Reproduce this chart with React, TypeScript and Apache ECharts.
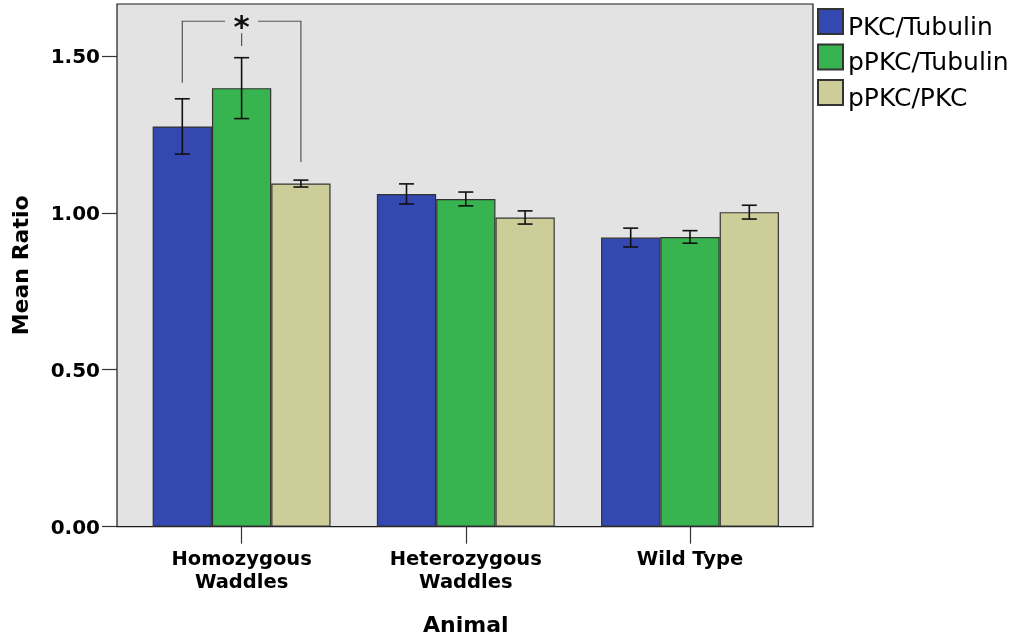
import React, { useEffect, useRef } from 'react';
import * as echarts from 'echarts';

// ---- data ----
const categories = ['Homozygous\nWaddles', 'Heterozygous\nWaddles', 'Wild Type'];
const seriesNames = ['PKC/Tubulin', 'pPKC/Tubulin', 'pPKC/PKC'];
const pkcTubulin = [1.275, 1.06, 0.921];
const pkcTubulinErr = [0.088, 0.032, 0.03];
const ppkcTubulin = [1.397, 1.044, 0.923];
const ppkcTubulinErr = [0.097, 0.022, 0.02];
const ppkcPkc = [1.093, 0.985, 1.002];
const ppkcPkcErr = [0.011, 0.021, 0.022];
const yTicks = [0, 0.5, 1.0, 1.5];
const yMax = 1.665;
// significance bracket
const sigCategory = [0];
const sigFrom = [0];
const sigTo = [2];
const sigMark = [1];
const sigTop = [1.61];
const sigLeftEnd = [1.414];
const sigRightEnd = [1.162];
const sigTickTop = [1.572];
const sigTickBottom = [1.531];
const sigLabel = ['*'];

const colors = ['#3349B1', '#37B34F', '#CDCD9A'];
const GAP = 0.2065;
const FONT = 'DejaVu Sans';

export default function App() {
  const ref = useRef<HTMLDivElement>(null);
  useEffect(() => {
    if (!ref.current) return;
    const chart = echarts.init(ref.current, undefined, { renderer: 'svg' });
    const means = [pkcTubulin, ppkcTubulin, ppkcPkc];
    const errs = [pkcTubulinErr, ppkcTubulinErr, ppkcPkcErr];

    const barOffset = (api: any, idx: number) => {
      const band = api.size([1, 0])[0];
      const bw = (band * (1 - GAP)) / 3;
      return (idx - 1) * bw;
    };

    const barSeries = means.map((m, i) => ({
      name: seriesNames[i],
      type: 'bar',
      xAxisIndex: 1,
      yAxisIndex: 1,
      data: m,
      barGap: '0%',
      barCategoryGap: GAP * 100 + '%',
      itemStyle: { color: colors[i], borderColor: '#333', borderWidth: 1.2 },
      z: 2,
    }));

    const errSeries = means.map((m, i) => ({
      type: 'custom',
      xAxisIndex: 1,
      yAxisIndex: 1,
      z: 4,
      silent: true,
      encode: { x: 0, y: [1, 2] },
      data: m.map((v, c) => [c, v - errs[i][c], v + errs[i][c]]),
      renderItem: (params: any, api: any) => {
        const c = api.value(0);
        const lo = api.coord([c, api.value(1)]);
        const hi = api.coord([c, api.value(2)]);
        const x = lo[0] + barOffset(api, i);
        const hw = 7.5;
        const st = { stroke: '#111', lineWidth: 1.6 };
        return {
          type: 'group',
          children: [
            { type: 'line', shape: { x1: x, y1: lo[1], x2: x, y2: hi[1] }, style: st },
            { type: 'line', shape: { x1: x - hw, y1: lo[1], x2: x + hw, y2: lo[1] }, style: st },
            { type: 'line', shape: { x1: x - hw, y1: hi[1], x2: x + hw, y2: hi[1] }, style: st },
          ],
        };
      },
    }));

    const sigSeries = {
      type: 'custom',
      xAxisIndex: 1,
      yAxisIndex: 1,
      z: 5,
      silent: true,
      encode: { x: 0, y: [1, 2, 3, 4, 5] },
      data: sigCategory.map((c, k) => [c, sigTop[k], sigLeftEnd[k], sigRightEnd[k], sigTickTop[k], sigTickBottom[k]]),
      renderItem: (params: any, api: any) => {
        const k = params.dataIndex;
        const c = api.value(0);
        const top = api.coord([c, api.value(1)]);
        const lEnd = api.coord([c, api.value(2)]);
        const rEnd = api.coord([c, api.value(3)]);
        const tTop = api.coord([c, api.value(4)]);
        const tBot = api.coord([c, api.value(5)]);
        const xl = top[0] + barOffset(api, sigFrom[k]);
        const xr = top[0] + barOffset(api, sigTo[k]);
        const xm = top[0] + barOffset(api, sigMark[k]);
        const gap = 16.5;
        const st = { stroke: '#555', lineWidth: 1.2, fill: null };
        return {
          type: 'group',
          children: [
            { type: 'polyline', shape: { points: [[xl, lEnd[1]], [xl, top[1]], [xm - gap, top[1]]] }, style: st },
            { type: 'polyline', shape: { points: [[xm + gap, top[1]], [xr, top[1]], [xr, rEnd[1]]] }, style: st },
            { type: 'line', shape: { x1: xm, y1: tTop[1], x2: xm, y2: tBot[1] }, style: st },
            {
              type: 'text',
              x: xm,
              y: top[1] + 5,
              style: {
                text: sigLabel[k],
                fontFamily: FONT,
                fontWeight: 'bold',
                fontSize: 31,
                fill: '#111',
                align: 'center',
                verticalAlign: 'middle',
              },
            },
          ],
        };
      },
    };

    chart.setOption({
      animation: false,
      grid: [
        { left: 117, right: 211, top: 4, bottom: 115.3, show: true, backgroundColor: '#E3E3E3', borderColor: '#1a1a1a', borderWidth: 1.2, z: 0, outerBoundsMode: 'none', containLabel: false },
        { left: 129.5, right: 221.9, top: 4, bottom: 115.3, outerBoundsMode: 'none', containLabel: false },
      ],
      legend: {
        orient: 'vertical',
        left: 817,
        top: 8,
        padding: 0,
        itemWidth: 25,
        itemHeight: 25,
        itemGap: 5,
        icon: 'rect',
        data: seriesNames,
        formatter: (name: string) => `{t|${name}}`,
        textStyle: {
          fontFamily: FONT,
          fontSize: 25,
          color: '#000',
          rich: { t: { fontFamily: FONT, fontSize: 25, color: '#000', padding: [9, 0, 0, 0] } },
        },
      },
      xAxis: [
        { gridIndex: 0, type: 'value', show: false, min: 0, max: 1 },
        {
          gridIndex: 1,
          type: 'category',
          data: categories,
          name: 'Animal',
          nameLocation: 'middle',
          nameGap: 87,
          nameTextStyle: { fontFamily: FONT, fontWeight: 'bold', fontSize: 22, color: '#000' },
          axisLine: { show: false },
          axisTick: { show: true, alignWithLabel: true, length: 17, lineStyle: { color: '#333', width: 1.2 } },
          axisLabel: { margin: 20.5, fontFamily: FONT, fontWeight: 'bold', fontSize: 19.5, lineHeight: 22.7, color: '#000' },
        },
      ],
      yAxis: [
        { gridIndex: 0, type: 'value', show: false, min: 0, max: 1 },
        {
          gridIndex: 1,
          type: 'value',
          min: 0,
          max: yMax,
          interval: 0.5,
          offset: 12.5,
          name: 'Mean Ratio',
          nameLocation: 'middle',
          nameGap: 86,
          nameTextStyle: { fontFamily: FONT, fontWeight: 'bold', fontSize: 22, color: '#000' },
          splitLine: { show: false },
          axisLine: { show: false },
          axisTick: { show: true, length: 15, customValues: yTicks, lineStyle: { color: '#333', width: 1.2 } },
          axisLabel: {
            margin: 17,
            customValues: yTicks,
            fontFamily: FONT,
            fontWeight: 'bold',
            fontSize: 20,
            color: '#000',
            formatter: (v: number) => v.toFixed(2),
          },
        },
      ],
      series: [...barSeries, ...errSeries, sigSeries],
    });
    return () => chart.dispose();
  }, []);
  return <div ref={ref} style={{ position: 'fixed', left: 0, top: 0, width: 1024, height: 642 }} />;
}
